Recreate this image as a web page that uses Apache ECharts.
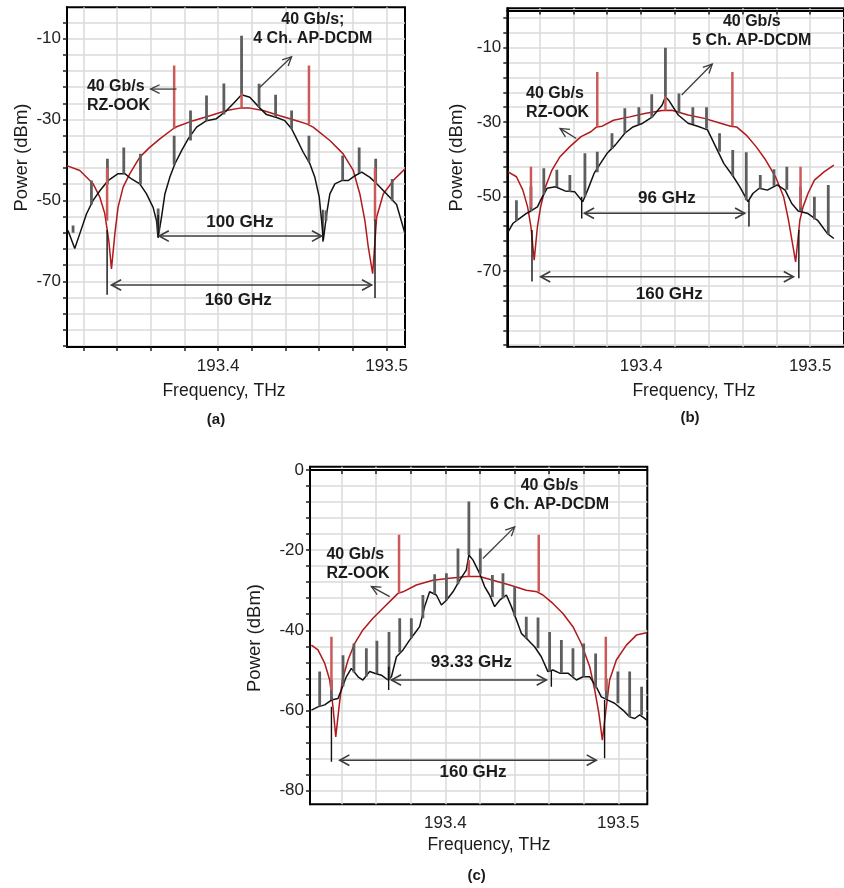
<!DOCTYPE html>
<html><head><meta charset="utf-8">
<script src="https://cdn.jsdelivr.net/npm/echarts@6/dist/echarts.min.js"></script>
<style>html,body{margin:0;padding:0;background:#fff}#chart{width:844px;height:888px}</style>
</head><body><div id="chart"></div>
<script>
// ---------------- Panel (a): 4 Ch. AP-DCDM ----------------
const redA = [[193.3102,-41.4],[193.3179,-42.6],[193.3258,-45.9],[193.3298,-49.2],[193.3327,-53.2],[193.3351,-59.9],[193.3367,-66.9],[193.3387,-58.2],[193.3406,-51.7],[193.3436,-46.7],[193.3476,-43.4],[193.3535,-39.3],[193.3594,-36.9],[193.3654,-34.8],[193.3733,-32.3],[193.3753,-31.8],[193.3852,-30.3],[193.3951,-29.1],[193.405,-27.8],[193.4129,-27.2],[193.4188,-27.2],[193.4267,-27.8],[193.4366,-29.1],[193.4466,-30.3],[193.4525,-31.1],[193.4564,-31.9],[193.4663,-35.2],[193.4742,-38.5],[193.4802,-42.6],[193.4841,-48.4],[193.4871,-55.0],[193.4891,-61.5],[193.4917,-68.1],[193.4941,-54.1],[193.498,-48.4],[193.5039,-45.1],[193.5109,-42.2]];
const blackA = [[193.3109,-57.4],[193.3149,-61.9],[193.3179,-58.2],[193.3219,-53.3],[193.3258,-50.0],[193.3298,-47.6],[193.3347,-45.1],[193.3406,-43.4],[193.3446,-43.4],[193.3486,-44.7],[193.3535,-45.9],[193.3575,-48.4],[193.3614,-51.7],[193.3634,-55.0],[193.3644,-59.1],[193.3664,-54.1],[193.3684,-48.4],[193.3713,-44.3],[193.3743,-41.0],[193.3783,-37.7],[193.3822,-34.8],[193.3872,-31.9],[193.3931,-30.3],[193.399,-29.8],[193.405,-27.8],[193.4089,-26.1],[193.4139,-23.9],[193.4188,-24.5],[193.4248,-27.2],[193.4287,-28.8],[193.4347,-29.5],[193.4396,-30.3],[193.4436,-32.3],[193.4466,-34.8],[193.4505,-38.1],[193.4545,-41.0],[193.4574,-44.3],[193.46,-49.2],[193.4614,-55.0],[193.4624,-59.9],[193.4644,-53.3],[193.4663,-48.4],[193.4693,-45.9],[193.4733,-45.1],[193.4772,-45.1],[193.4812,-43.9],[193.4852,-43.0],[193.4901,-44.3],[193.4941,-45.9],[193.5,-48.4],[193.5059,-51.0],[193.5109,-58.2]];
// tones: [frequency, base, top]
const graySpikesA = [[193.3139,-58,-56.2],[193.3248,-51,-45.1],[193.3343,-46,-39.7],[193.344,-43.4,-36.9],[193.3539,-46,-38.5],[193.3644,-58,-52.0],[193.3739,-41.2,-34.0],[193.3836,-35.2,-27.8],[193.3931,-30.3,-24.1],[193.4034,-28.8,-21.1],[193.4139,-23.9,-9.3],[193.4243,-27.0,-21.2],[193.4341,-29.4,-23.9],[193.4436,-32.3,-27.8],[193.4539,-40.5,-34.0],[193.464,-55,-52.5],[193.4739,-45.1,-38.9],[193.4837,-43.2,-36.9],[193.4935,-45.9,-39.7],[193.5033,-50.0,-44.7]];
const redSpikesA = [[193.3739,-32.3,-16.7],[193.4539,-31.1,-16.7],[193.4139,-27.2,-23.6],[193.3341,-55,-42],[193.4931,-55,-42]];

// ---------------- Panel (b): 5 Ch. AP-DCDM ----------------
const redB = [[193.3214,-43.4],[193.3263,-44.7],[193.3301,-48.3],[193.3329,-52.8],[193.3349,-58.2],[193.3368,-67.1],[193.3387,-58.2],[193.3406,-52.8],[193.3435,-47.4],[193.3473,-42.9],[193.3521,-39.3],[193.3579,-36.6],[193.3645,-33.9],[193.3703,-32.6],[193.3737,-31.3],[193.377,-31.1],[193.3837,-29.5],[193.3933,-28.6],[193.4029,-27.6],[193.4125,-26.9],[193.4182,-26.8],[193.4278,-28.1],[193.4374,-29.0],[193.447,-30.3],[193.453,-31.1],[193.4565,-31.3],[193.4622,-33.5],[193.468,-36.6],[193.4737,-40.2],[193.4795,-44.7],[193.4843,-50.1],[193.4872,-56.4],[193.4914,-67.6],[193.4939,-56.4],[193.4958,-52.8],[193.4987,-49.2],[193.5025,-45.6],[193.5082,-43.4],[193.514,-41.6]];
const blackB = [[193.3214,-59.5],[193.3243,-57.2],[193.3282,-55.9],[193.332,-54.6],[193.3349,-53.9],[193.3387,-52.8],[193.3416,-50.1],[193.3444,-47.8],[193.3493,-47.4],[193.355,-48.5],[193.3607,-48.7],[193.3655,-51.4],[193.3684,-48.3],[193.3722,-43.8],[193.376,-41.1],[193.3799,-38.4],[193.3847,-36.2],[193.3904,-33.0],[193.3952,-31.3],[193.401,-30.3],[193.4067,-28.6],[193.4125,-25.4],[193.4144,-23.2],[193.4163,-24.1],[193.422,-28.1],[193.4278,-30.3],[193.4335,-31.1],[193.4393,-32.1],[193.4441,-36.6],[193.4489,-41.1],[193.4546,-44.7],[193.4584,-47.4],[193.4632,-51.4],[193.4661,-49.2],[193.4699,-47.8],[193.4747,-48.3],[193.4805,-46.9],[193.4852,-48.3],[193.4891,-51.9],[193.4929,-53.9],[193.4987,-54.6],[193.5044,-56.4],[193.5102,-60.0],[193.514,-61.3]];
const graySpikesB = [[193.3263,-56.5,-51.0],[193.3349,-53.9,-47.4],[193.3425,-49.5,-42.4],[193.3502,-47.5,-42.8],[193.3579,-48.7,-44.2],[193.3668,-50,-38.4],[193.3741,-43.5,-38.0],[193.3828,-37.2,-33.0],[193.3904,-33.0,-26.3],[193.3987,-30.6,-26.0],[193.4063,-28.8,-22.5],[193.4144,-23.2,-10.0],[193.4224,-27.6,-22.3],[193.4306,-30.5,-26.0],[193.4387,-31.8,-26.0],[193.4464,-38.0,-33.0],[193.4542,-44.5,-37.5],[193.4622,-51.0,-38.1],[193.4705,-47.9,-44.2],[193.4786,-47.1,-42.7],[193.4862,-48.2,-42.0],[193.4943,-54.0,-47.4],[193.5025,-56.2,-50.1],[193.5107,-60.2,-46.9]];
const redSpikesB = [[193.3741,-31.3,-16.5],[193.454,-31.1,-16.5],[193.4144,-26.9,-23.2],[193.3349,-53,-42.0],[193.4943,-53,-42.0]];

// ---------------- Panel (c): 6 Ch. AP-DCDM ----------------
const redC = [[193.3225,-43.7],[193.3263,-44.9],[193.3302,-48.2],[193.3331,-52.4],[193.335,-59.1],[193.3366,-66.6],[193.3385,-59.1],[193.3404,-52.4],[193.3437,-47.4],[193.3475,-43.3],[193.3523,-39.9],[193.3581,-37.0],[193.3639,-34.5],[193.3707,-31.6],[193.3726,-30.8],[193.3755,-30.4],[193.3832,-28.7],[193.3928,-27.5],[193.4025,-27.0],[193.4083,-26.8],[193.4121,-26.6],[193.4198,-26.6],[193.4275,-27.5],[193.4372,-28.7],[193.4468,-30.0],[193.453,-30.4],[193.4564,-31.2],[193.4622,-33.3],[193.468,-35.8],[193.4738,-39.1],[193.4786,-43.3],[193.4835,-49.1],[193.4864,-54.9],[193.4888,-60.7],[193.4908,-67.4],[193.4931,-59.1],[193.495,-52.4],[193.4989,-47.4],[193.5047,-43.7],[193.5105,-41.2],[193.5163,-40.6]];
const blackC = [[193.3225,-59.9],[193.3263,-59.1],[193.3302,-58.6],[193.3341,-57.4],[193.3379,-57.0],[193.3398,-54.9],[193.3427,-51.6],[193.3456,-49.5],[193.3495,-51.6],[193.3523,-52.4],[193.3562,-50.3],[193.3591,-50.7],[193.363,-51.2],[193.3668,-52.4],[193.3688,-51.6],[193.3717,-46.6],[193.3755,-44.9],[193.3794,-42.4],[193.3822,-40.8],[193.3851,-39.1],[193.388,-34.1],[193.3909,-30.4],[193.3948,-31.2],[193.3977,-33.7],[193.4006,-32.5],[193.4044,-30.4],[193.4083,-27.5],[193.4121,-25.0],[193.4136,-21.2],[193.416,-22.5],[193.4198,-25.8],[193.4227,-29.1],[193.4256,-31.2],[193.4285,-34.1],[193.4314,-32.5],[193.4353,-31.2],[193.4382,-34.1],[193.4411,-37.4],[193.444,-40.8],[193.4478,-42.4],[193.4516,-44.1],[193.4555,-46.6],[193.4593,-50.3],[193.4622,-49.9],[193.4661,-50.7],[193.4709,-50.7],[193.4758,-52.4],[193.4796,-51.6],[193.4835,-51.6],[193.4873,-54.1],[193.4902,-56.6],[193.494,-57.4],[193.4979,-58.2],[193.5027,-59.9],[193.5066,-61.6],[193.5095,-62.0],[193.5124,-61.1],[193.5166,-62.4]];
const graySpikesC = [[193.3273,-59.0,-50.3],[193.3341,-57.4,-52.4],[193.3408,-54.0,-46.2],[193.3471,-50.5,-43.3],[193.3543,-51.5,-44.5],[193.3604,-50.7,-42.6],[193.3674,-52.4,-40.4],[193.3736,-45.5,-37.0],[193.3803,-42.0,-37.0],[193.387,-37.0,-31.2],[193.3938,-31.0,-26.0],[193.4006,-32.5,-25.8],[193.4073,-28.5,-19.6],[193.4136,-21.2,-7.9],[193.4202,-26.0,-19.6],[193.4272,-31.7,-26.2],[193.4333,-32.0,-25.8],[193.4401,-36.5,-29.1],[193.4468,-42.0,-36.6],[193.4536,-44.5,-36.8],[193.4603,-50.3,-40.4],[193.4671,-50.7,-42.4],[193.4738,-51.5,-44.5],[193.48,-51.6,-43.3],[193.4869,-54.5,-45.8],[193.4931,-57.2,-52.1],[193.4998,-58.2,-50.3],[193.5066,-61.6,-50.3],[193.5135,-61.2,-54.1]];
const redSpikesC = [[193.3732,-30.8,-16.2],[193.454,-30.4,-16.2],[193.4136,-26.6,-22.5],[193.3341,-55,-41.6],[193.4928,-55,-41.6]];

// ---------------- Axis ticks ----------------
const xTicksA = [193.32,193.34,193.36,193.38,193.40,193.42,193.44,193.46,193.48,193.50];
const xTicksBC = [193.34,193.36,193.38,193.40,193.42,193.44,193.46,193.48,193.50];
const xLabels = [193.4,193.5];
const yTicksA = [-6,-10,-14,-18,-22,-26,-30,-34,-38,-42,-46,-50,-54,-58,-62,-66,-70,-74,-78,-82,-86];
const yTicksB = [-2,-6,-10,-14,-18,-22,-26,-30,-34,-38,-42,-46,-50,-54,-58,-62,-66,-70,-74,-78,-82,-86,-90];
const yTicksC = [0,-4,-8,-12,-16,-20,-24,-28,-32,-36,-40,-44,-48,-52,-56,-60,-64,-68,-72,-76,-80];
const yLabelsAB = [-10,-30,-50,-70];
const yLabelsC = [0,-20,-40,-60,-80];

// ---------------- Annotations (data units) ----------------
const notesA = {
  texts: [[193.3221,-24.2,'40 Gb/s\nRZ-OOK'],[193.4562,-7.65,'40 Gb/s;\n4 Ch. AP-DCDM'],[193.4129,-55.4,'100 GHz'],[193.4119,-74.7,'160 GHz']],
  arrows: [[193.3753,-22.5,193.3599,-22.5],[193.4248,-22.05,193.4436,-14.5]],
  dims: [[193.365,193.4614,-58.8],[193.3367,193.4911,-70.9]],
  marks: [[193.3644,-59.3,-53.6],[193.4622,-60.2,-52.3],[193.3341,-73.3,-57.3],[193.4931,-74.1,-54.8]]
};
const notesB = {
  texts: [[193.332,-24.9,'40 Gb/s\nRZ-OOK'],[193.4655,-5.6,'40 Gb/s\n5 Ch. AP-DCDM'],[193.4153,-50.5,'96 GHz'],[193.4167,-76.2,'160 GHz']],
  arrows: [[193.3617,-34.4,193.3521,-31.7],[193.424,-22.7,193.4421,-14.4]],
  dims: [[193.3665,193.4613,-54.5],[193.3406,193.4901,-71.6]],
  marks: [[193.3649,-55.9,-50.1],[193.4638,-58.1,-51.0],[193.3355,-72.9,-59.0],[193.4933,-72.0,-59.0]]
};
const notesC = {
  texts: [[193.3312,-23.4,'40 Gb/s\nRZ-OOK'],[193.4603,-6.3,'40 Gb/s\n6 Ch. AP-DCDM'],[193.415,-48.0,'93.33 GHz'],[193.416,-75.5,'160 GHz']],
  arrows: [[193.3678,-31.6,193.3572,-29.1],[193.4217,-22.1,193.4401,-14.2]],
  dims: [[193.3688,193.4584,-52.4],[193.3389,193.4873,-72.4]],
  marks: [[193.3672,-54.9,-49.1],[193.4613,-54.1,-49.9],[193.3341,-72.8,-59.1],[193.4921,-71.9,-57.4]]
};

// ---------------- Rendering ----------------
const FF = '"Liberation Sans", Arial, Helvetica, sans-serif';
const C_RED = '#b1191c', C_REDSPIKE = '#cd5a5a', C_BLACK = '#121212', C_GRAY = '#5e5e5e', C_ARROW = '#3c3c3c', C_TEXT = '#1b1b1b';

function lineSeries(i, data, color, w, z) {
  return {type:'line', xAxisIndex:i, yAxisIndex:i, data, symbol:'none', showSymbol:false,
    lineStyle:{color, width:w}, z, animation:false, clip:true, silent:true};
}
function vSeries(i, data, color, w, z) {
  return {type:'custom', xAxisIndex:i, yAxisIndex:i, data, z, clip:true, animation:false, silent:true,
    encode:{x:0, y:[1,2]},
    renderItem(p, api) {
      const a = api.coord([api.value(0), api.value(1)]);
      const b = api.coord([api.value(0), api.value(2)]);
      return {type:'line', shape:{x1:a[0], y1:a[1], x2:b[0], y2:b[1]}, style:{stroke:color, lineWidth:w}};
    }};
}
function headPts(tip, ang, len, spread) {
  return [[tip[0] - len*Math.cos(ang - spread), tip[1] - len*Math.sin(ang - spread)], tip,
          [tip[0] - len*Math.cos(ang + spread), tip[1] - len*Math.sin(ang + spread)]];
}
function arrowSeries(i, data) {
  return {type:'custom', xAxisIndex:i, yAxisIndex:i, data, z:20, animation:false, silent:true,
    encode:{x:[0,2], y:[1,3]},
    renderItem(p, api) {
      const a = api.coord([api.value(0), api.value(1)]);
      const b = api.coord([api.value(2), api.value(3)]);
      const ang = Math.atan2(b[1]-a[1], b[0]-a[0]);
      return {type:'group', children:[
        {type:'line', shape:{x1:a[0], y1:a[1], x2:b[0], y2:b[1]}, style:{stroke:C_ARROW, lineWidth:1.3}},
        {type:'polyline', shape:{points:headPts(b, ang, 10, 0.45)}, style:{stroke:C_ARROW, lineWidth:1.3, fill:null}}
      ]};
    }};
}
function dimSeries(i, data) {
  return {type:'custom', xAxisIndex:i, yAxisIndex:i, data, z:20, animation:false, silent:true,
    encode:{x:[0,1], y:2},
    renderItem(p, api) {
      const a = api.coord([api.value(0), api.value(2)]);
      const b = api.coord([api.value(1), api.value(2)]);
      return {type:'group', children:[
        {type:'line', shape:{x1:a[0], y1:a[1], x2:b[0], y2:b[1]}, style:{stroke:C_ARROW, lineWidth:1.6}},
        {type:'polyline', shape:{points:headPts(a, Math.PI, 11, 0.5)}, style:{stroke:C_ARROW, lineWidth:1.6, fill:null}},
        {type:'polyline', shape:{points:headPts(b, 0, 11, 0.5)}, style:{stroke:C_ARROW, lineWidth:1.6, fill:null}}
      ]};
    }};
}
function textSeries(i, items) {
  return {type:'custom', xAxisIndex:i, yAxisIndex:i, data: items.map(t => [t[0], t[1]]), z:25, animation:false, silent:true,
    encode:{x:0, y:1},
    renderItem(p, api) {
      const pt = api.coord([api.value(0), api.value(1)]);
      const txt = items[p.dataIndex][2];
      const left = txt.indexOf('RZ-OOK') >= 0;
      const isSpan = txt.indexOf('GHz') >= 0;
      return {type:'text', x:pt[0], y:pt[1], style:{text:txt, fill:C_TEXT, font:'bold ' + (isSpan ? 17 : 16) + 'px ' + FF,
        align: left ? 'left' : 'center', verticalAlign:'middle', lineHeight:19}};
    }};
}
function panelSeries(i, red, black, gray, redSp, notes) {
  return [
    lineSeries(i, red, C_RED, 1.5, 2),
    lineSeries(i, black, C_BLACK, 1.5, 3),
    vSeries(i, gray, C_GRAY, 2.8, 4),
    vSeries(i, redSp, C_REDSPIKE, 2.5, 5),
    vSeries(i, notes.marks, '#111', 1.4, 6),
    arrowSeries(i, notes.arrows),
    dimSeries(i, notes.dims),
    textSeries(i, notes.texts)
  ];
}
function xAxis(i, range, ticks) {
  return {type:'value', gridIndex:i, min:range[0], max:range[1],
    axisLine:{show:true, lineStyle:{color:'#000', width:2}},
    axisTick:{show:true, customValues:ticks, length:4, inside:false, lineStyle:{color:'#222', width:1.5}},
    axisLabel:{show:true, customValues:xLabels, margin:11, fontSize:17, fontFamily:FF, color:'#222'},
    splitLine:{show:true, lineStyle:{color:'#dadada', width:1.5}}};
}
function yAxis(i, range, ticks, labels) {
  return {type:'value', gridIndex:i, min:range[0], max:range[1],
    axisLine:{show:true, lineStyle:{color:'#000', width:2}},
    axisTick:{show:true, customValues:ticks, length:4, inside:false, lineStyle:{color:'#222', width:1.5}},
    axisLabel:{show:true, customValues:labels, margin:6, fontSize:17, fontFamily:FF, color:'#222'},
    splitLine:{show:true, lineStyle:{color:'#dadada', width:1.5}}};
}
function gtext(x, y, text, size, bold, rot) {
  return {type:'text', x, y, rotation: rot || 0, z:50,
    style:{text, font:(bold ? 'bold ' : '') + size + 'px ' + FF, fill:C_TEXT, align:'center', verticalAlign:'middle'}};
}

const chart = echarts.init(document.getElementById('chart'), null, {renderer:'canvas'});
chart.setOption({
  animation:false,
  backgroundColor:'#fff',
  textStyle:{fontFamily:FF},
  grid:[
    {left:67, top:7.3, width:338, height:339.7, show:true, borderColor:'#000', borderWidth:2, backgroundColor:'#fff'},
    {left:507.3, top:8.3, width:346.4, height:338.4, show:true, borderColor:'#000', borderWidth:2, backgroundColor:'#fff'},
    {left:310, top:466.7, width:337.3, height:337.6, show:true, borderColor:'#000', borderWidth:2, backgroundColor:'#fff'}
  ],
  xAxis:[
    xAxis(0, [193.3103, 193.5109], xTicksA),
    xAxis(1, [193.3209, 193.52], xTicksBC),
    xAxis(2, [193.3217, 193.5168], xTicksBC)
  ],
  yAxis:[
    yAxis(0, [-86.2, -2.3], yTicksA, yLabelsAB),
    yAxis(1, [-90.4, 0.6], yTicksB, yLabelsAB),
    yAxis(2, [-83.4, 0.8], yTicksC, yLabelsC)
  ],
  series:[].concat(
    panelSeries(0, redA, blackA, graySpikesA, redSpikesA, notesA),
    panelSeries(1, redB, blackB, graySpikesB, redSpikesB, notesB),
    panelSeries(2, redC, blackC, graySpikesC, redSpikesC, notesC)
  ),
  graphic:[
    gtext(21.7, 157.5, 'Power (dBm)', 18.5, false, Math.PI/2),
    gtext(456.7, 157.5, 'Power (dBm)', 18.5, false, Math.PI/2),
    gtext(255, 638, 'Power (dBm)', 18.5, false, Math.PI/2),
    gtext(224, 391, 'Frequency, THz', 17.5, false),
    gtext(694, 391, 'Frequency, THz', 17.5, false),
    gtext(489, 845.5, 'Frequency, THz', 17.5, false),
    gtext(216, 419.5, '(a)', 15, true),
    gtext(690, 418, '(b)', 15, true),
    gtext(476.7, 876, '(c)', 15, true)
  ]
});
</script>
</body></html>
